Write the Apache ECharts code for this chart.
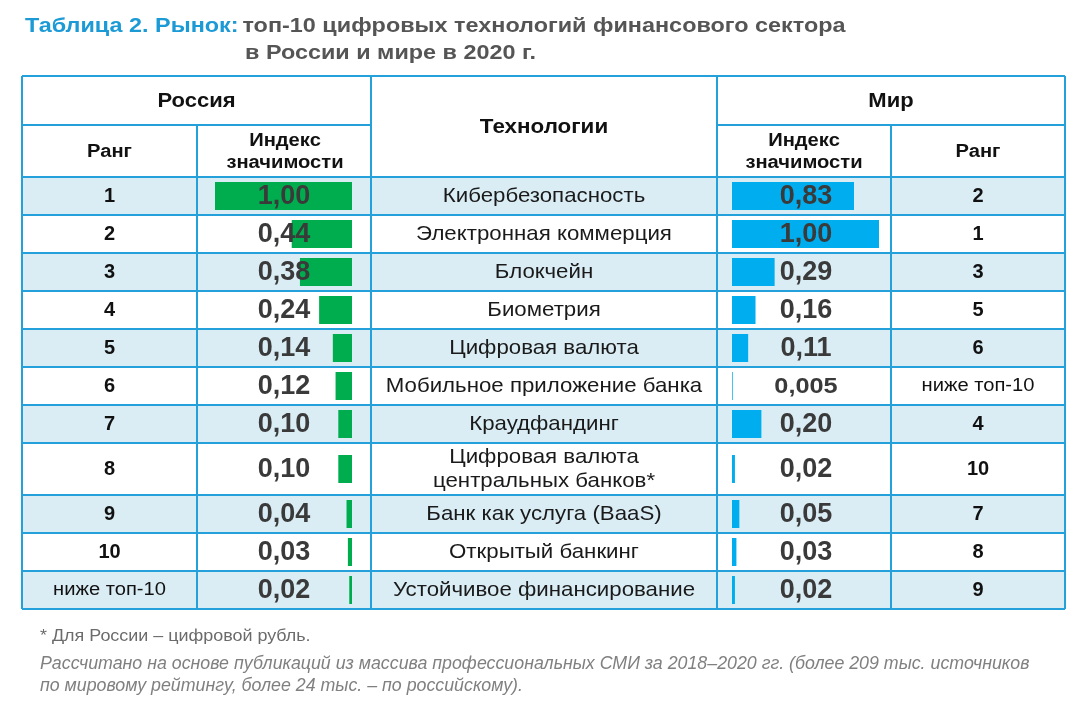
<!DOCTYPE html>
<html><head><meta charset="utf-8">
<script src="https://cdn.jsdelivr.net/npm/echarts@6/dist/echarts.min.js"></script>
<style>html,body{margin:0;padding:0;background:#fff}#c{width:1080px;height:713px}</style>
</head><body><div id="c"></div>
<script>
// ---------- DATA ----------
const technologies = ['Кибербезопасность','Электронная коммерция','Блокчейн','Биометрия','Цифровая валюта','Мобильное приложение банка','Краудфандинг','Цифровая валюта\nцентральных банков*','Банк как услуга (BaaS)','Открытый банкинг','Устойчивое финансирование'];
const ruRank = ['1','2','3','4','5','6','7','8','9','10','ниже топ-10'];
const ruIndex = [1.00,0.44,0.38,0.24,0.14,0.12,0.10,0.10,0.04,0.03,0.02];
const worldIndex = [0.83,1.00,0.29,0.16,0.11,0.005,0.20,0.02,0.05,0.03,0.02];
const worldRank = ['2','1','3','5','6','ниже топ-10','4','10','7','8','9'];

// ---------- LAYOUT ----------
const FONT = "'Liberation Sans', Arial, sans-serif";
const COLS = [22,197,371,717,891,1065];
const TOP = 76, H1 = 125, H2 = 177;
const ROWH = [38,38,38,38,38,38,38,52,38,38,38];
const SEGMENTS = [[0,7],[7,8],[8,11]];
const LINE = '#24a0da', SHADE = '#daedf5';
const GREEN = '#00ad4e', BLUE = '#00aeef';
const RU_BAR = {left:215, width:137}, W_BAR = {left:732, width:147};

const rowTops = []; { let y = H2; ROWH.forEach(h => { rowTops.push(y); y += h; }); }
const BOTTOM = rowTops[rowTops.length-1] + ROWH[ROWH.length-1];
const rowMid = i => rowTops[i] + ROWH[i]/2;
const fmt = v => v.toFixed(v < 0.01 ? 3 : 2).replace('.', ',');

const grids = [], xAxes = [], yAxes = [], series = [];
[[RU_BAR, ruIndex, GREEN, true],[W_BAR, worldIndex, BLUE, false]].forEach(([box, vals, color, inv]) => {
  SEGMENTS.forEach(([a,b]) => {
    const gi = grids.length;
    const h = ROWH.slice(a,b).reduce((s,v)=>s+v,0);
    grids.push({left:box.left, width:box.width, top:rowTops[a], height:h, containLabel:false});
    xAxes.push({type:'value', gridIndex:gi, min:0, max:1, inverse:inv, show:false});
    yAxes.push({type:'category', gridIndex:gi, data:technologies.slice(a,b), inverse:true, show:false});
    series.push({type:'bar', xAxisIndex:gi, yAxisIndex:gi, data:vals.slice(a,b), barWidth:28,
      itemStyle:{color:color}, silent:true, z:2});
  });
});

// ---------- GRAPHIC: table ----------
const g = [];
ROWH.forEach((h,i) => { if (i % 2 === 0) g.push({type:'rect', shape:{x:COLS[0], y:rowTops[i], width:COLS[5]-COLS[0], height:h}, style:{fill:SHADE}, z:-10}); });
const hl = (x1,x2,y) => g.push({type:'line', shape:{x1,y1:y,x2,y2:y}, style:{stroke:LINE, lineWidth:2}, z:50});
const vl = (x,y1,y2) => g.push({type:'line', shape:{x1:x,y1,x2:x,y2}, style:{stroke:LINE, lineWidth:2}, z:50});
hl(COLS[0],COLS[5],TOP); hl(COLS[0],COLS[2],H1); hl(COLS[3],COLS[5],H1); hl(COLS[0],COLS[5],H2);
rowTops.forEach((t,i)=>{ if(i>0) hl(COLS[0],COLS[5],t); }); hl(COLS[0],COLS[5],BOTTOM);
[0,2,3,5].forEach(k=>vl(COLS[k],TOP,BOTTOM)); [1,4].forEach(k=>vl(COLS[k],H1,BOTTOM));

const txt = (text,x,y,font,color,align,lh,sx) => g.push({type:'text', z:60, x, y, scaleX:sx||1,
  style:{text, x:0, y:0, font, fill:color||'#111', textAlign:align||'center', textVerticalAlign:'middle', lineHeight:lh||22}});
const cx = k => (COLS[k]+COLS[k+1])/2;
txt('Россия', (COLS[0]+COLS[2])/2, 101, 'bold 20px '+FONT, '#111', 'center', 22, 1.1);
txt('Мир', (COLS[3]+COLS[5])/2, 101, 'bold 20px '+FONT, '#111', 'center', 22, 1.1);
txt('Технологии', cx(2), 127, 'bold 20px '+FONT, '#111', 'center', 22, 1.12);
txt('Ранг', cx(0), 152, 'bold 18px '+FONT, '#111', 'center', 22, 1.12);
txt('Ранг', cx(4), 152, 'bold 18px '+FONT, '#111', 'center', 22, 1.12);
txt('Индекс\nзначимости', 285, 152, 'bold 18px '+FONT, '#111', 'center', 22, 1.12);
txt('Индекс\nзначимости', 804, 152, 'bold 18px '+FONT, '#111', 'center', 22, 1.12);

technologies.forEach((t,i)=>{
  const y = rowMid(i);
  const rank = (r,x) => /^\d+$/.test(r) ? txt(r, x, y, 'bold 20px '+FONT, '#111')
                                         : txt(r, x, y, '18px '+FONT, '#111', 'center', 22, 1.12);
  rank(ruRank[i], cx(0));
  txt(fmt(ruIndex[i]), 284, y+1, 'bold 27px '+FONT, '#3a3a3a');
  txt(t, cx(2), y, '21px '+FONT, '#1a1a1a', 'center', 24, 1.06);
  if (worldIndex[i] < 0.01) txt(fmt(worldIndex[i]), 806, y+1, 'bold 22px '+FONT, '#3a3a3a', 'center', 22, 1.15);
  else txt(fmt(worldIndex[i]), 806, y+1, 'bold 27px '+FONT, '#3a3a3a');
  rank(worldRank[i], cx(4));
});

// title
g.push({type:'text', z:60, x:25, y:26, scaleX:1.17, style:{x:0, y:0, textVerticalAlign:'middle', text:'{a|Таблица 2. Рынок:} {b|топ-10 цифровых технологий финансового сектора}',
  rich:{a:{font:'bold 20px '+FONT, fill:'#1b9ad6'}, b:{font:'bold 20px '+FONT, fill:'#555555'}}}});
txt('в России и мире в 2020 г.', 245, 53, 'bold 20px '+FONT, '#555555', 'left', 22, 1.17);
// notes
txt('* Для России – цифровой рубль.', 40, 637, '16px '+FONT, '#6b6b6b', 'left', 20, 1.12);
txt('Рассчитано на основе публикаций из массива профессиональных СМИ за 2018–2020 гг. (более 209 тыс. источников', 40, 664, 'italic 17.8px '+FONT, '#808080', 'left');
txt('по мировому рейтингу, более 24 тыс. – по российскому).', 40, 686, 'italic 17.8px '+FONT, '#808080', 'left');

const chart = echarts.init(document.getElementById('c'), null, {renderer:'canvas'});
chart.setOption({animation:false, backgroundColor:'#fff', grid:grids, xAxis:xAxes, yAxis:yAxes, series:series, graphic:{elements:g}});
</script></body></html>
